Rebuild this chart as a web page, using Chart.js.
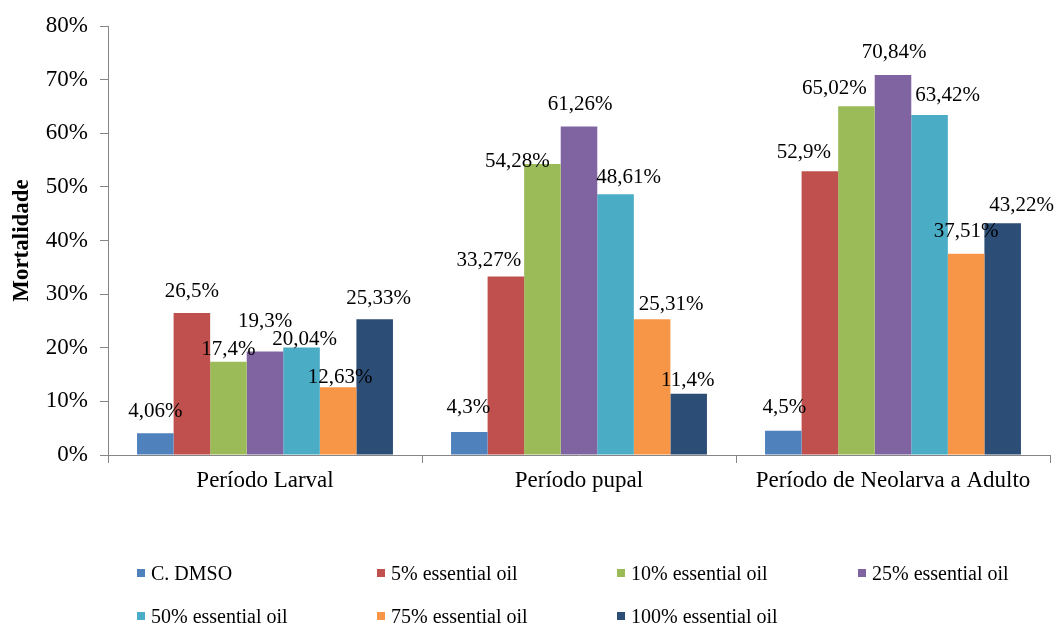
<!DOCTYPE html>
<html>
<head>
<meta charset="utf-8">
<script src="https://cdn.jsdelivr.net/npm/chart.js@4"></script>
<style>
  body { margin: 0; background: #fff; }
  #wrap { position: relative; width: 1056px; height: 625px; }
  #legend {
    position: absolute; left: 137px; top: 561px;
    display: grid; grid-template-columns: 240px 240px 241px 200px;
    row-gap: 19px;
    font-family: "Liberation Serif", "Times New Roman", serif;
    font-size: 20px; color: #000;
  }
  #legend .item { display: flex; align-items: center; height: 24px; }
  #legend .box { width: 8px; height: 8px; margin-right: 6px; }
</style>
</head>
<body>
<div id="wrap">
  <canvas id="mortChart" width="1056" height="625"></canvas>
  <div id="legend"></div>
</div>
<script>
// ================= DATA =================
const categories = ["Período Larval", "Período pupal", "Período de Neolarva a Adulto"];
const seriesNames = ["C. DMSO", "5% essential oil", "10% essential oil", "25% essential oil",
  "50% essential oil", "75% essential oil", "100% essential oil"];
const dmso = [4.06, 4.3, 4.5];
const oil5 = [26.5, 33.27, 52.9];
const oil10 = [17.4, 54.28, 65.02];
const oil25 = [19.3, 61.26, 70.84];
const oil50 = [20.04, 48.61, 63.42];
const oil75 = [12.63, 25.31, 37.51];
const oil100 = [25.33, 11.4, 43.22];
const yTicks = [0, 10, 20, 30, 40, 50, 60, 70, 80];

const colors = ["#4F81BD", "#C0504D", "#9BBB59", "#8064A2", "#4BACC6", "#F79646", "#2C4D75"];
const allSeries = [dmso, oil5, oil10, oil25, oil50, oil75, oil100];

// label nudges [dx, height above bar top], per series per category (Excel moved some labels)
const labelNudge = [
  [[0, 22], [-1, 24], [1, 23]],
  [[0, 21], [-17, 16], [-16, 19]],
  [[0, 12], [-25, 2], [-22, 18]],
  [[0, 30], [1, 22], [1, 23]],
  [[3, 8], [13, 17], [18, 19]],
  [[2, 10], [19, 15], [0, 22]],
  [[4, 21], [-1, 13], [19, 18]]
];

const serif = "'Liberation Serif', 'Times New Roman', serif";

// ================= LEGEND =================
const legend = document.getElementById("legend");
seriesNames.forEach((name, i) => {
  const item = document.createElement("div");
  item.className = "item";
  item.innerHTML = `<span class="box" style="background:${colors[i]}"></span>${name}`;
  legend.appendChild(item);
});

// ================= LABELS =================
const valueLabels = {
  id: "valueLabels",
  afterDatasetsDraw(chart) {
    const ctx = chart.ctx;
    ctx.save();
    ctx.font = "21px " + serif;
    ctx.fillStyle = "#000";
    ctx.textAlign = "center";
    ctx.textBaseline = "middle";
    chart.data.datasets.forEach((ds, i) => {
      chart.getDatasetMeta(i).data.forEach((bar, j) => {
        const n = labelNudge[i][j];
        const txt = String(ds.data[j]).replace(".", ",") + "%";
        ctx.fillText(txt, bar.x + n[0], bar.y - n[1]);
      });
    });
    ctx.restore();
  }
};

// ================= CHART =================
new Chart(document.getElementById("mortChart"), {
  type: "bar",
  data: {
    labels: categories,
    datasets: allSeries.map((d, i) => ({
      label: seriesNames[i],
      data: d,
      backgroundColor: colors[i],
      borderWidth: 0,
      categoryPercentage: 0.815,
      barPercentage: 1.0
    }))
  },
  options: {
    responsive: false,
    animation: false,
    layout: { padding: { left: 0, right: 6, top: 26, bottom: 100 } },
    plugins: { legend: { display: false }, tooltip: { enabled: false } },
    scales: {
      x: {
        grid: { offset: true, drawOnChartArea: false, tickLength: 8, color: "#868686" },
        border: { color: "#868686" },
        ticks: { color: "#000", font: { family: serif, size: 23 }, padding: 4 },
        afterFit(s) { s.height = 70; }
      },
      y: {
        min: 0, max: 80,
        afterBuildTicks(s) { s.ticks = yTicks.map(v => ({ value: v })); },
        grid: { drawOnChartArea: false, tickLength: 8, color: "#868686" },
        border: { color: "#868686" },
        ticks: { color: "#000", font: { family: serif, size: 23 }, padding: 12,
          callback: v => v + "%" },
        title: { display: true, text: "Mortalidade", color: "#000",
          font: { family: serif, size: 23, weight: "bold" }, padding: { top: 8, bottom: 0 } },
        afterFit(s) { s.width = 108; }
      }
    }
  },
  plugins: [valueLabels]
});
</script>
</body>
</html>
